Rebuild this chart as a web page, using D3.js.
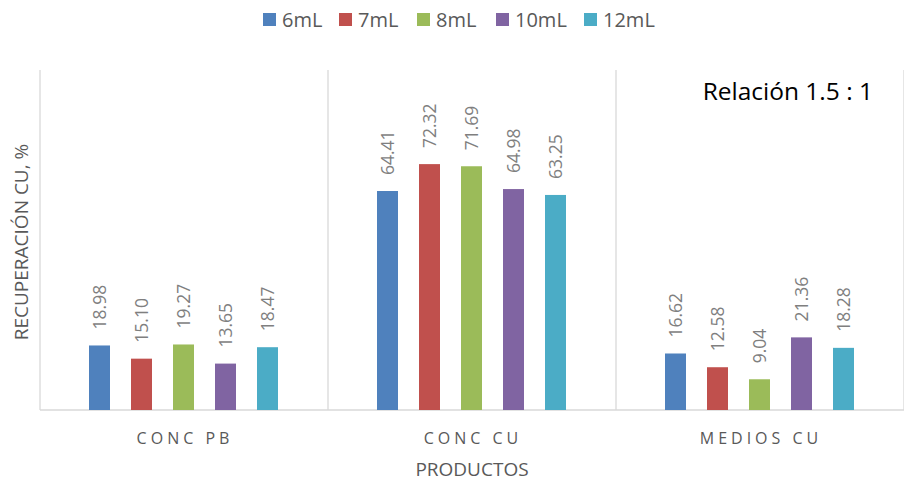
<!DOCTYPE html>
<html><head><meta charset="utf-8">
<script src="https://cdn.jsdelivr.net/npm/d3@7"></script>
<style>body{margin:0;background:#fff;} text{font-family:"Open Sans", Lato, sans-serif;}</style>
</head><body>
<svg id="c" width="904" height="482"></svg>
<script>
const categories = ["CONC PB", "CONC CU", "MEDIOS CU"];
const seriesNames = ["6mL", "7mL", "8mL", "10mL", "12mL"];
const s6 = [18.98, 64.41, 16.62];
const s7 = [15.10, 72.32, 12.58];
const s8 = [19.27, 71.69, 9.04];
const s10 = [13.65, 64.98, 21.36];
const s12 = [18.47, 63.25, 18.28];
const seriesValues = [s6, s7, s8, s10, s12];
const colors = ["#4F81BD", "#C0504D", "#9BBB59", "#8064A2", "#4BACC6"];

(function(){
const svg = d3.select("#c");
const pLeft = 40, pRight = 904, pTop = 70, pBottom = 410;
const x0 = d3.scaleBand().domain(categories).range([pLeft, pRight]).paddingInner(0).paddingOuter(0);
const x1 = d3.scaleBand().domain(seriesNames).range([49, 238]).paddingInner(0.5).paddingOuter(0);
const y = d3.scaleLinear().domain([0, 100]).range([pBottom, pTop]);

const bounds = [pLeft].concat(categories.map(c => x0(c) + x0.bandwidth()));
svg.selectAll("line.sep").data(bounds).enter().append("line")
  .attr("x1", d => d).attr("x2", d => d).attr("y1", pTop).attr("y2", pBottom)
  .attr("stroke", "#d9d9d9").attr("stroke-width", 1.3);
svg.append("line").attr("x1", pLeft).attr("x2", pRight).attr("y1", pBottom).attr("y2", pBottom)
  .attr("stroke", "#d9d9d9").attr("stroke-width", 1.5);

const g = svg.append("g");
seriesNames.forEach((s, si) => {
  categories.forEach((c, ci) => {
    const v = seriesValues[si][ci];
    const bx = x0(c) + x1(s);
    g.append("rect").attr("x", bx).attr("y", y(v)).attr("width", x1.bandwidth())
      .attr("height", y(0) - y(v)).attr("fill", colors[si]);
    g.append("text").attr("transform", `translate(${bx + x1.bandwidth()/2 + 6.5},${y(v) - 16}) rotate(-90)`)
      .attr("font-size", 17.5).attr("fill", "#7f7f7f").text(v.toFixed(2));
  });
});

svg.selectAll("text.cat").data(categories).enter().append("text")
  .attr("x", d => x0(d) + x0.bandwidth()/2 + 1).attr("y", 444).attr("text-anchor", "middle")
  .attr("font-size", 16).attr("letter-spacing", "4px").attr("fill", "#595959").text(d => d);

svg.append("text").attr("x", 472).attr("y", 476).attr("text-anchor", "middle")
  .attr("font-size", 19).attr("fill", "#595959").text("PRODUCTOS");

svg.append("text").attr("transform", "translate(28,242) rotate(-90)").attr("text-anchor", "middle")
  .attr("font-size", 19).attr("fill", "#595959").text("RECUPERACIÓN CU, %");

svg.append("text").attr("x", 873).attr("y", 100).attr("text-anchor", "end")
  .attr("font-size", 24.5).attr("fill", "#000").text("Relación 1.5 : 1");

const legX = [263, 339, 417, 496, 584];
const leg = svg.selectAll("g.leg").data(seriesNames).enter().append("g")
  .attr("transform", (d, i) => `translate(${legX[i]},13)`);
leg.append("rect").attr("width", 13).attr("height", 13).attr("fill", (d, i) => colors[i]);
leg.append("text").attr("x", 19).attr("y", 14).attr("font-size", 20).attr("fill", "#595959").text(d => d);
})();
</script>
</body></html>
